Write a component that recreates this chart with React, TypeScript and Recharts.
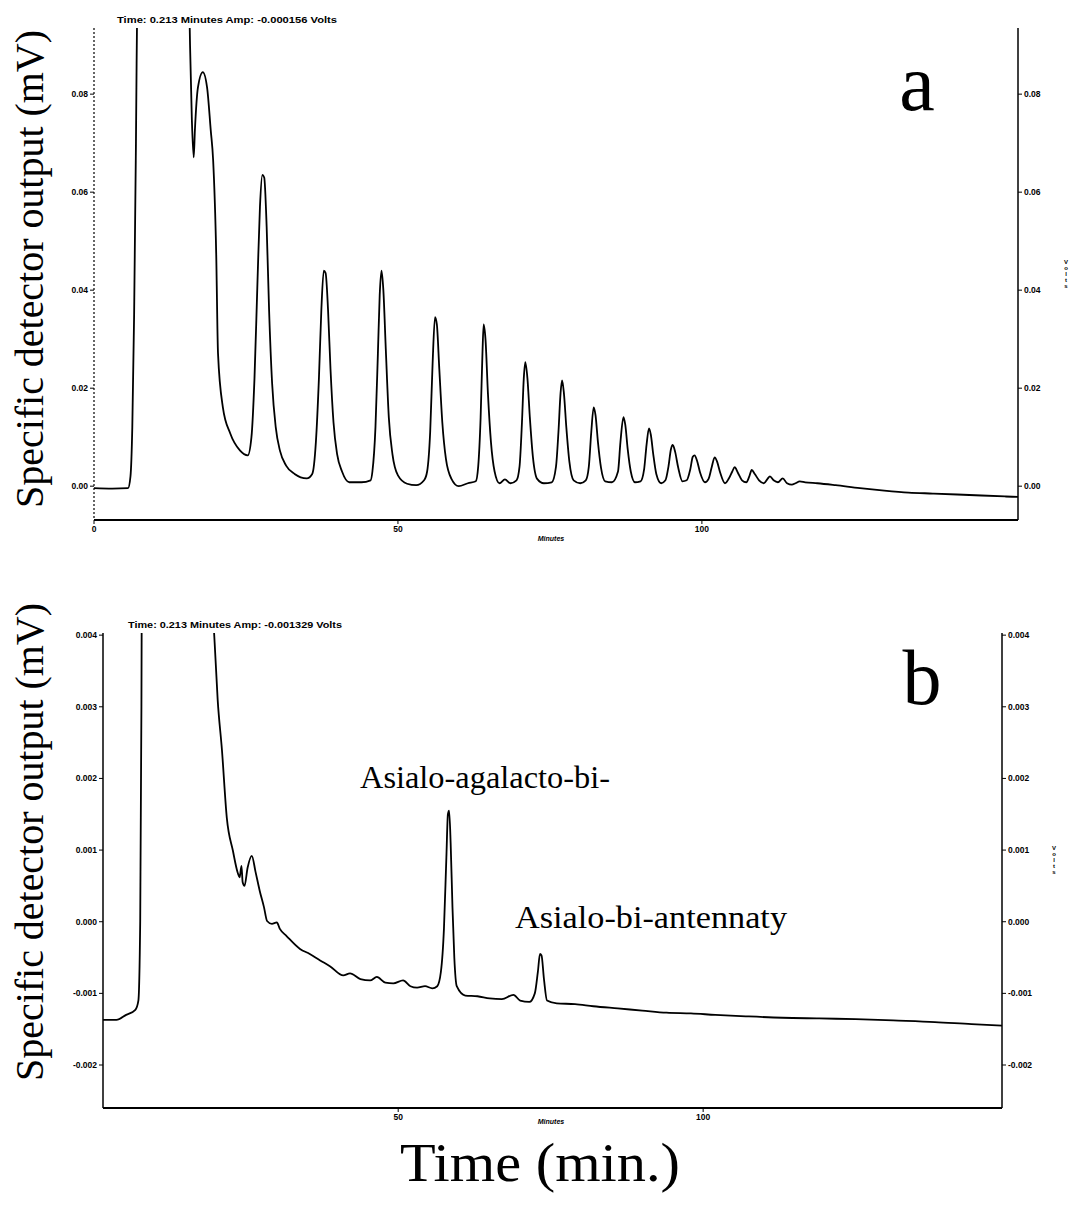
import React from 'react';
import { LineChart, Line, XAxis, YAxis } from 'recharts';

// ---------- Panel a (chromatogram, Volts) ----------
const timesA = [
  0, 3, 5.6, 6.0, 6.3, 6.6, 6.9, 7.2, 8.0, 15.0, 15.5, 15.8, 16.1, 16.4, 16.6, 17.1, 17.9, 18.6, 19.2, 19.6,
  20.1, 20.4, 21.2, 22.4, 24.0, 25.3,
  25.9, 26.4, 26.9, 27.3, 27.7, 28.0, 28.4, 28.8, 29.3, 29.9, 30.6, 31.6, 33.0, 35.0,
  35.9, 36.5, 37.0, 37.4, 37.8, 38.1, 38.5, 38.9, 39.4, 40.0, 40.8, 42.0, 44.0, 45.5,
  45.8, 46.3, 46.7, 47.0, 47.3, 47.6, 48.0, 48.5, 49.1, 50.0, 51.5, 53.0, 54.3,
  54.8, 55.3, 55.7, 56.1, 56.4, 56.8, 57.3, 57.9, 58.8, 60.0, 61.5, 62.8,
  63.2, 63.6, 63.9, 64.1, 64.4, 64.8, 65.3, 65.9, 66.7, 67.6, 68.5, 69.5,
  70.0, 70.4, 70.7, 70.95, 71.3, 71.7, 72.2, 72.9, 74.0, 75.3,
  76.0, 76.4, 76.75, 77.0, 77.3, 77.7, 78.2, 78.9, 80.0, 80.9,
  81.4, 81.8, 82.2, 82.5, 82.9, 83.4, 84.1, 85.2,
  86.2, 86.6, 87.1, 87.4, 87.8, 88.3, 89.0, 89.9,
  90.5, 90.9, 91.3, 91.6, 92.0, 92.5, 93.3, 94.0,
  94.5, 94.9, 95.2, 95.6, 96.1, 96.8, 97.5,
  98.1, 98.5, 98.8, 99.2, 99.7, 100.5, 101.1,
  101.6, 102.1, 102.5, 103.0, 103.8, 104.4,
  105.0, 105.4, 105.9, 106.6, 107.3, 107.8,
  108.2, 108.7, 109.4, 110.2, 110.8,
  111.2, 111.8, 112.5, 113.3, 114.0, 114.8, 115.4, 116.1, 117.0,
  119, 122, 126, 130, 134, 138, 142, 146, 150, 152,
];
const valuesA = [
  -0.0004, -0.0005, -0.0004, 0.002, 0.012, 0.035, 0.07, 0.11, 0.13, 0.13, 0.11, 0.09, 0.0747, 0.0671, 0.0727, 0.0814, 0.0845, 0.0814, 0.0727, 0.0665,
  0.0476, 0.0271, 0.0161, 0.0108, 0.0073, 0.0063,
  0.010, 0.022, 0.042, 0.057, 0.0635, 0.063, 0.053, 0.036, 0.021, 0.012, 0.0072, 0.0042, 0.0025, 0.0016,
  0.0025, 0.009, 0.022, 0.036, 0.0440, 0.0435, 0.036, 0.024, 0.013, 0.0065, 0.003, 0.0008, 0.0008, 0.0012,
  0.003, 0.012, 0.027, 0.039, 0.044, 0.040, 0.028, 0.014, 0.0065, 0.0022, 0.0005, 0.0002, 0.0012,
  0.003, 0.011, 0.025, 0.0345, 0.033, 0.024, 0.013, 0.0055, 0.0015, 0.0, 0.0006, 0.001,
  0.004, 0.014, 0.027, 0.033, 0.030, 0.019, 0.009, 0.003, 0.0006, 0.0014, 0.0006, 0.0012,
  0.004, 0.013, 0.022, 0.0253, 0.022, 0.014, 0.006, 0.0015, 0.0006, 0.0008,
  0.004, 0.011, 0.019, 0.0216, 0.019, 0.012, 0.005, 0.0012, 0.0006, 0.0012,
  0.004, 0.011, 0.0161, 0.0145, 0.009, 0.0038, 0.001, 0.0008,
  0.003, 0.009, 0.0141, 0.0125, 0.0075, 0.003, 0.0008, 0.001,
  0.0035, 0.0085, 0.0118, 0.0105, 0.0065, 0.0025, 0.0006, 0.0012,
  0.004, 0.0075, 0.0084, 0.007, 0.0038, 0.001, 0.0012,
  0.0035, 0.006, 0.0063, 0.0052, 0.0028, 0.0008, 0.0015,
  0.0038, 0.0059, 0.005, 0.0028, 0.0006, 0.0015,
  0.003, 0.0039, 0.0028, 0.0012, 0.0008, 0.002,
  0.0033, 0.0025, 0.0012, 0.0006, 0.0015,
  0.002, 0.0012, 0.0008, 0.0016, 0.0006, 0.0003, 0.0006, 0.001, 0.0008,
  0.0006, 0.0002, -0.0004, -0.0009, -0.0013, -0.0015, -0.0017, -0.0019, -0.0021, -0.0022,
];
const domainXA = [0, 152];
const domainYA = [-0.0069, 0.0935];
const ticksXA = [0, 50, 100];
const ticksYA = [0, 0.02, 0.04, 0.06, 0.08];

// ---------- Panel b ----------
const timesB = [
  1.6, 3.8, 5.4, 6.9, 7.4, 7.7, 7.9, 8.1, 9.2, 19.1, 19.6, 19.9, 20.4, 21.1, 21.9, 22.9, 23.7, 24.0, 24.3, 24.5,
  24.8, 25.3, 26.0, 26.6, 27.3, 28.0, 28.5, 29.3, 30.1, 30.6, 31.7, 33.9, 35.5, 37.2, 38.8, 41.0, 42.1, 43.8,
  45.4, 46.5, 47.9, 49.2, 50.8, 52.0, 53.1, 54.4, 55.6, 56.4, 57.0, 57.5, 57.9, 58.15, 58.35, 58.6, 58.9, 59.2, 59.6,
  61.0, 63.0, 65.0, 67.0, 68.9, 70.0, 71.5, 72.4, 72.9, 73.25, 73.5, 73.9, 74.4, 76, 79, 82, 86, 90, 94, 98, 102,
  107, 113, 119, 125, 132, 138, 144, 149,
];
const valuesB = [
  -0.00137, -0.00137, -0.0013, -0.00123, -0.0011, 0.0, 0.003, 0.008, 0.012, 0.008, 0.0045, 0.0039, 0.0031, 0.0024, 0.00145, 0.00099, 0.00068, 0.00062, 0.00078, 0.00055,
  0.0005, 0.00075, 0.00092, 0.0007, 0.00043, 0.0002, 0.00001, -0.00003, -0.00001, -0.0001, -0.0002, -0.00038, -0.00045, -0.00054, -0.00062, -0.00075, -0.00072, -0.0008,
  -0.00082, -0.00077, -0.00085, -0.00086, -0.00082, -0.0009, -0.00092, -0.0009, -0.00093, -0.0009, -0.0007, -0.0001, 0.0009, 0.0015, 0.00155, 0.0011, 0.0002, -0.0005, -0.0009,
  -0.00103, -0.00104, -0.00107, -0.00108, -0.00102, -0.0011, -0.00112, -0.001, -0.0007, -0.00045, -0.00047, -0.0008, -0.0011, -0.00114, -0.00115, -0.00118, -0.00121, -0.00124, -0.00127, -0.00128, -0.0013,
  -0.00132, -0.00134, -0.00135, -0.00136, -0.00138, -0.0014, -0.00143, -0.00145,
];
const domainXB = [1.6, 149];
const domainYB = [-0.0026, 0.00403];
const ticksXB = [50, 100];
const ticksYB = [-0.002, -0.001, 0, 0.001, 0.002, 0.003, 0.004];

const tickStyle = { fontSize: 8.5, fontWeight: 700, fill: '#000', fontFamily: 'Liberation Sans, Arial, sans-serif' };
const serif = 'Liberation Serif, Times New Roman, serif';
const sans = 'Liberation Sans, Arial, sans-serif';

function VoltsStack({ x, y }: { x: number; y: number }) {
  const letters = ['V', 'o', 'l', 't', 's'];
  return (
    <g>
      {letters.map((c, i) => (
        <text key={i} x={x} y={y + i * 6} fontSize={6} fontWeight={700} fontFamily={sans} textAnchor="middle" fill="#000">
          {c}
        </text>
      ))}
    </g>
  );
}

export default function App() {
  const dataA = timesA.map((t, i) => ({ t, v: valuesA[i] }));
  const dataB = timesB.map((t, i) => ({ t, v: valuesB[i] }));
  return (
    <div style={{ position: 'absolute', left: 0, top: 0, width: 1071, height: 1219, background: '#fff', overflow: 'hidden' }}>
      <div style={{ position: 'absolute', left: 0, top: 0 }}>
        <LineChart width={1071} height={560} data={dataA} margin={{ top: 28, right: 8, bottom: 20, left: 54 }}>
          <XAxis xAxisId="bottom" dataKey="t" type="number" domain={domainXA} ticks={ticksXA} interval={0}
            allowDataOverflow height={20} tickSize={4} tick={tickStyle}
            axisLine={{ stroke: '#000', strokeWidth: 2 }} tickLine={{ stroke: '#000' }} />
          <XAxis xAxisId="top" orientation="top" dataKey="t" type="number" domain={domainXA} allowDataOverflow
            height={0} tick={false} tickLine={false} axisLine={{ stroke: '#000', strokeWidth: 2 }} />
          <YAxis yAxisId="left" type="number" domain={domainYA} ticks={ticksYA} interval={0} allowDataOverflow
            width={40} tickSize={4} tick={tickStyle} tickFormatter={(v: number) => v.toFixed(2)}
            axisLine={{ stroke: '#000', strokeWidth: 1.2, strokeDasharray: '2 2' }} tickLine={{ stroke: '#000' }} />
          <YAxis yAxisId="right" orientation="right" type="number" domain={domainYA} ticks={ticksYA} interval={0} allowDataOverflow
            width={45} tickSize={4} tick={tickStyle} tickFormatter={(v: number) => v.toFixed(2)}
            axisLine={{ stroke: '#000', strokeWidth: 1.5 }} tickLine={{ stroke: '#000' }} />
          <Line xAxisId="top" yAxisId="right" dataKey="v" stroke="none" dot={false} isAnimationActive={false} />
          <Line xAxisId="bottom" yAxisId="left" dataKey="v" type="monotone" stroke="#000" strokeWidth={1.8}
            dot={false} isAnimationActive={false} />
        </LineChart>
      </div>
      <div style={{ position: 'absolute', left: 0, top: 600 }}>
        <LineChart width={1071} height={540} data={dataB} margin={{ top: 33, right: 24, bottom: 12, left: 63 }}>
          <XAxis xAxisId="bottom" dataKey="t" type="number" domain={domainXB} ticks={ticksXB} interval={0}
            allowDataOverflow height={20} tickSize={4} tick={tickStyle}
            axisLine={{ stroke: '#000', strokeWidth: 2 }} tickLine={{ stroke: '#000' }} />
          <XAxis xAxisId="top" orientation="top" dataKey="t" type="number" domain={domainXB} allowDataOverflow
            height={0} tick={false} tickLine={false} axisLine={{ stroke: '#000', strokeWidth: 2 }} />
          <YAxis yAxisId="left" type="number" domain={domainYB} ticks={ticksYB} interval={0} allowDataOverflow
            width={40} tickSize={4} tick={tickStyle} tickFormatter={(v: number) => v.toFixed(3)}
            axisLine={{ stroke: '#000', strokeWidth: 1.5 }} tickLine={{ stroke: '#000' }} />
          <YAxis yAxisId="right" orientation="right" type="number" domain={domainYB} ticks={ticksYB} interval={0} allowDataOverflow
            width={45} tickSize={4} tick={tickStyle} tickFormatter={(v: number) => v.toFixed(3)}
            axisLine={{ stroke: '#000', strokeWidth: 1.5 }} tickLine={{ stroke: '#000' }} />
          <Line xAxisId="top" yAxisId="right" dataKey="v" stroke="none" dot={false} isAnimationActive={false} />
          <Line xAxisId="bottom" yAxisId="left" dataKey="v" type="monotone" stroke="#000" strokeWidth={1.8}
            dot={false} isAnimationActive={false} />
        </LineChart>
      </div>
      <svg width={1071} height={1219} style={{ position: 'absolute', left: 0, top: 0, pointerEvents: 'none' }}>
        <text x={117} y={23} fontSize={9} fontWeight={700} fontFamily={sans} textLength={220} lengthAdjust="spacingAndGlyphs">
          Time:  0.213 Minutes  Amp: -0.000156 Volts
        </text>
        <text x={128} y={628} fontSize={9} fontWeight={700} fontFamily={sans} textLength={214} lengthAdjust="spacingAndGlyphs">
          Time:  0.213 Minutes  Amp: -0.001329 Volts
        </text>
        <text x={551} y={541} fontSize={7} fontWeight={700} fontStyle="italic" fontFamily={sans} textAnchor="middle">Minutes</text>
        <text x={551} y={1124} fontSize={7} fontWeight={700} fontStyle="italic" fontFamily={sans} textAnchor="middle">Minutes</text>
        <VoltsStack x={1066} y={264} />
        <VoltsStack x={1054} y={850} />
        <text x={917} y={110} fontSize={80} fontFamily={serif} textAnchor="middle">a</text>
        <text x={922} y={704} fontSize={78} fontFamily={serif} textAnchor="middle">b</text>
        <text x={360} y={788} fontSize={32} fontFamily={serif} textLength={250} lengthAdjust="spacingAndGlyphs">Asialo-agalacto-bi-</text>
        <text x={515} y={928} fontSize={32} fontFamily={serif} textLength={272} lengthAdjust="spacingAndGlyphs">Asialo-bi-antennaty</text>
        <text transform="translate(43,269) rotate(-90)" fontSize={39} fontFamily={serif} textAnchor="middle"
          textLength={478} lengthAdjust="spacingAndGlyphs">Specific detector output (mV)</text>
        <text transform="translate(43,842) rotate(-90)" fontSize={39} fontFamily={serif} textAnchor="middle"
          textLength={478} lengthAdjust="spacingAndGlyphs">Specific detector output (mV)</text>
        <text x={540} y={1181} fontSize={54} fontFamily={serif} textAnchor="middle" textLength={280} lengthAdjust="spacingAndGlyphs">Time (min.)</text>
      </svg>
    </div>
  );
}
